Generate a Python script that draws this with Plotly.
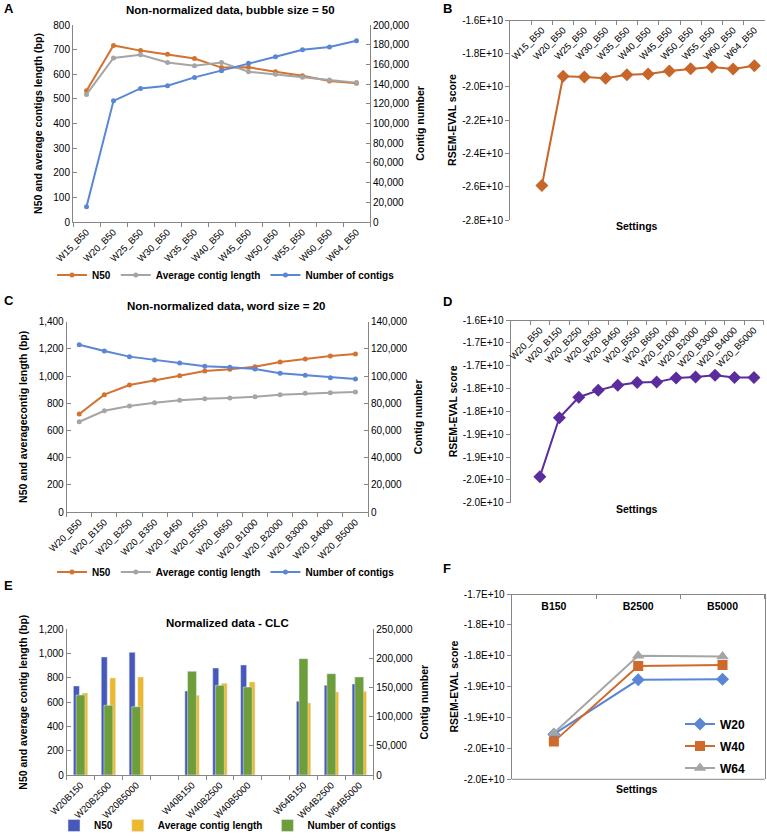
import plotly.graph_objects as go

W, H = 767, 840
FONT = "Arial, Liberation Sans, sans-serif"

ORANGE = "#D4722F"
GRAY = "#A5A5A5"
BLUE = "#5A86D5"
PURPLE = "#5B2C9E"
BAR_BLUE = "#4658BC"
BAR_YELLOW = "#EDB92C"
BAR_GREEN = "#6E9E3C"
AXIS = "#868686"

# ---- panel A: non-normalized, bubble size 50 ----
a_settings = ["W15_B50", "W20_B50", "W25_B50", "W30_B50", "W35_B50", "W40_B50",
              "W45_B50", "W50_B50", "W55_B50", "W60_B50", "W64_B50"]
a_n50 = [533, 717, 696, 681, 664, 627, 628, 610, 594, 573, 563]
a_avg_len = [518, 666, 679, 648, 635, 648, 610, 600, 588, 577, 566]
a_contigs = [15500, 123000, 135600, 138300, 146800, 153600, 161100, 167800,
             174900, 177700, 184100]

# ---- panel B: RSEM-EVAL, bubble size 50 ----
b_rsem = [-2.593e10, -1.938e10, -1.942e10, -1.950e10, -1.929e10, -1.924e10,
          -1.906e10, -1.892e10, -1.882e10, -1.894e10, -1.874e10]
b_tickvals = [-2.8e10, -2.6e10, -2.4e10, -2.2e10, -2.0e10, -1.8e10, -1.6e10]
b_ticktext = ["-2.8E+10", "-2.6E+10", "-2.4E+10", "-2.2E+10", "-2.0E+10",
              "-1.8E+10", "-1.6E+10"]

# ---- panel C: non-normalized, word size 20 ----
c_settings = ["W20_B50", "W20_B150", "W20_B250", "W20_B350", "W20_B450",
              "W20_B550", "W20_B650", "W20_B1000", "W20_B2000", "W20_B3000",
              "W20_B4000", "W20_B5000"]
c_n50 = [721, 863, 934, 971, 1003, 1037, 1050, 1069, 1103, 1126, 1148, 1162]
c_avg_len = [664, 745, 780, 804, 822, 834, 839, 848, 863, 873, 878, 883]
c_contigs = [123100, 118400, 114300, 111800, 109600, 107200, 106400, 105200,
             102000, 100600, 98800, 97800]

# ---- panel D: RSEM-EVAL, word size 20 ----
d_rsem = [-1.943e10, -1.814e10, -1.769e10, -1.754e10, -1.743e10, -1.737e10,
          -1.736e10, -1.727e10, -1.725e10, -1.721e10, -1.726e10, -1.726e10]
d_tickvals = [-2.0e10, -1.95e10, -1.9e10, -1.85e10, -1.8e10, -1.75e10,
              -1.7e10, -1.65e10, -1.6e10]
d_ticktext = ["-2.0E+10", "-2.0E+10", "-1.9E+10", "-1.9E+10", "-1.8E+10",
              "-1.8E+10", "-1.7E+10", "-1.7E+10", "-1.6E+10"]

# ---- panel E: normalized data, CLC ----
e_settings = ["W20B150", "W20B2500", "W20B5000", " ", "W40B150", "W40B2500",
              "W40B5000", "  ", "W64B150", "W64B2500", "W64B5000"]
e_n50 = [733, 972, 1010, None, 692, 881, 906, None, 607, 739, 750]
e_avg_len = [675, 799, 807, None, 656, 755, 766, None, 593, 684, 689]
e_contigs = [137300, 119600, 117200, None, 177900, 153900, 151000, None,
             199600, 173800, 168200]

# ---- panel F: RSEM-EVAL, normalized ----
f_settings = ["B150", "B2500", "B5000"]
f_w20 = [-1.927e10, -1.839e10, -1.838e10]
f_w40 = [-1.939e10, -1.8165e10, -1.815e10]
f_w64 = [-1.925e10, -1.800e10, -1.801e10]
f_tickvals = [-2.0e10, -1.95e10, -1.9e10, -1.85e10, -1.8e10, -1.75e10, -1.7e10]
f_ticktext = ["-2.0E+10", "-2.0E+10", "-1.9E+10", "-1.9E+10", "-1.8E+10",
              "-1.8E+10", "-1.7E+10"]


def px_x(x):
    return x / W


def px_y(y):
    return 1 - y / H


def xd(left, right):
    return [px_x(left), px_x(right)]


def yd(top, bottom):
    return [px_y(bottom), px_y(top)]


def cat_range(cats, lead=0):
    # one slot per category, optionally with empty slots in front
    return [-0.5 - lead, len(cats) - 0.5]


def ax(**kw):
    base = dict(showline=True, linecolor=AXIS, linewidth=1, showgrid=False,
                zeroline=False, ticks="outside", ticklen=4, tickcolor=AXIS,
                automargin=False,
                tickfont=dict(size=10, color="black"),
                title_font=dict(size=10.5, color="black", weight="bold"))
    base.update(kw)
    return base


def cat_x(**kw):
    return ax(type="category", tickson="boundaries", tickangle=-45,
              tickfont=dict(size=9.5, color="black"), **kw)


def line_trace(x, y, name, color, xa, ya, legend, symbol="circle", size=5,
               showlegend=True):
    return go.Scatter(x=x, y=y, name=name, mode="lines+markers",
                      line=dict(color=color, width=2),
                      marker=dict(color=color, size=size, symbol=symbol),
                      xaxis=xa, yaxis=ya, legend=legend, showlegend=showlegend,
                      legendgroup=f"{legend}-{name}")


fig = go.Figure()

# panel A
fig.add_trace(line_trace(a_settings, a_n50, "N50", ORANGE, "x", "y", "legend"))
fig.add_trace(line_trace(a_settings, a_avg_len, "Average contig length", GRAY,
                         "x", "y", "legend"))
fig.add_trace(line_trace(a_settings, a_contigs, "Number of contigs", BLUE,
                         "x", "y2", "legend"))

# panel B
fig.add_trace(line_trace(a_settings, b_rsem, "RSEM-EVAL", "#C8662A", "x2", "y3",
                         "legend", symbol="diamond", size=10, showlegend=False))

# panel C
fig.add_trace(line_trace(c_settings, c_n50, "N50", ORANGE, "x3", "y4", "legend2"))
fig.add_trace(line_trace(c_settings, c_avg_len, "Average contig length", GRAY,
                         "x3", "y4", "legend2"))
fig.add_trace(line_trace(c_settings, c_contigs, "Number of contigs", BLUE,
                         "x3", "y5", "legend2"))

# panel D
fig.add_trace(line_trace(c_settings, d_rsem, "RSEM-EVAL", PURPLE, "x4", "y6",
                         "legend2", symbol="diamond", size=10, showlegend=False))

# panel E (green bars sit on the secondary axis, drawn over the others)
fig.add_trace(go.Bar(x=e_settings, y=e_n50, name="N50", marker_color=BAR_BLUE,
                     width=0.215, offset=-0.26, xaxis="x5", yaxis="y7",
                     legend="legend3"))
fig.add_trace(go.Bar(x=e_settings, y=e_avg_len, name="Average contig length",
                     marker_color=BAR_YELLOW, width=0.205, offset=0.05,
                     xaxis="x5", yaxis="y7", legend="legend3"))
fig.add_trace(go.Bar(x=e_settings, y=e_contigs, name="Number of contigs",
                     marker_color=BAR_GREEN, width=0.32, offset=-0.165,
                     xaxis="x5", yaxis="y8", legend="legend3"))

# panel F
fig.add_trace(line_trace(f_settings, f_w20, "W20", BLUE, "x6", "y9", "legend4",
                         symbol="diamond", size=10))
fig.add_trace(line_trace(f_settings, f_w40, "W40", "#D06A2A", "x6", "y9",
                         "legend4", symbol="square", size=10))
fig.add_trace(line_trace(f_settings, f_w64, "W64", GRAY, "x6", "y9", "legend4",
                         symbol="triangle-up", size=11))

layout_axes = dict(
    # A
    xaxis=cat_x(domain=xd(73, 370), anchor="y", range=cat_range(a_settings)),
    yaxis=ax(domain=yd(25, 222), anchor="x", range=[0, 800], dtick=100,
             ticks="inside",
             title=dict(text="N50 and average contigs length (bp)", standoff=8)),
    yaxis2=ax(overlaying="y", side="right", anchor="x", range=[0, 200000],
              dtick=20000, tickformat=",", ticks="inside",
              title=dict(text="Contig number", standoff=8)),
    # B
    xaxis2=cat_x(domain=xd(510, 765), anchor="free", position=px_y(20),
                 side="bottom", range=cat_range(a_settings, 1)),
    yaxis3=ax(domain=yd(20, 220), anchor="x2", range=[-2.8e10, -1.6e10],
              tickvals=b_tickvals, ticktext=b_ticktext,
              title=dict(text="RSEM-EVAL score", standoff=3)),
    # C
    xaxis3=cat_x(domain=xd(66.7, 368), anchor="y4", range=cat_range(c_settings)),
    yaxis4=ax(domain=yd(321.7, 512), anchor="x3", range=[0, 1400], dtick=200,
              tickformat=",", ticks="inside",
              title=dict(text="N50 and averagecontig length (bp)", standoff=8)),
    yaxis5=ax(overlaying="y4", side="right", anchor="x3", range=[0, 140000],
              dtick=20000, tickformat=",", ticks="inside",
              title=dict(text="Contig number", standoff=8)),
    # D
    xaxis4=cat_x(domain=xd(510.7, 763.7), anchor="free", position=px_y(320),
                 side="bottom", range=cat_range(c_settings, 1)),
    yaxis6=ax(domain=yd(320, 502.7), anchor="x4", range=[-2.0e10, -1.6e10],
              tickvals=d_tickvals, ticktext=d_ticktext,
              title=dict(text="RSEM-EVAL score", standoff=3)),
    # E
    xaxis5=cat_x(domain=xd(66.7, 373.3), anchor="y7", range=cat_range(e_settings)),
    yaxis7=ax(domain=yd(629.3, 775), anchor="x5", range=[0, 1200], dtick=200,
              tickformat=",", ticks="inside",
              title=dict(text="N50 and average contig length (bp)", standoff=8)),
    yaxis8=ax(overlaying="y7", side="right", anchor="x5", range=[0, 250000],
              dtick=50000, tickformat=",", ticks="inside",
              title=dict(text="Contig number", standoff=8)),
    # F
    xaxis6=ax(type="category", tickson="boundaries", domain=xd(511.7, 764.7),
              anchor="free", position=px_y(594), side="bottom",
              range=cat_range(f_settings),
              tickfont=dict(size=10.5, color="black", weight="bold"),
              ticklabelstandoff=2),
    yaxis9=ax(domain=yd(594, 779.3), anchor="x6", range=[-2.0e10, -1.7e10],
              tickvals=f_tickvals, ticktext=f_ticktext, mirror=True,
              title=dict(text="RSEM-EVAL score", standoff=3)),
)

# bottom edge of the F plot area
fig.add_shape(type="line", xref="x6 domain", yref="y9 domain", x0=0, x1=1,
              y0=0, y1=0, line=dict(color=AXIS, width=1))


def note(text, x, y, size=10.5, anchor="center"):
    return dict(text=text, x=px_x(x), y=px_y(y), xref="paper", yref="paper",
                showarrow=False, xanchor=anchor, yanchor="middle",
                font=dict(size=size, color="black", family=FONT, weight="bold"))


annotations = [
    note("A", 2, 9, 13, "left"), note("B", 441, 9, 13, "left"),
    note("C", 2, 300, 13, "left"), note("D", 441, 301, 13, "left"),
    note("E", 2, 585, 13, "left"), note("F", 441, 568, 13, "left"),
    note("Non-normalized data, bubble size = 50", 230, 10, 11.5),
    note("Non-normalized data, word size = 20", 226, 306, 11.5),
    note("Normalized data - CLC", 228, 623, 11.5),
    note("Settings", 637, 226), note("Settings", 637, 509),
    note("Settings", 637, 789),
]

leg_font = dict(size=10, color="black", family=FONT, weight="bold")
clear = "rgba(0,0,0,0)"
fig.update_layout(
    width=W, height=H, autosize=False,
    margin=dict(l=0, r=0, t=0, b=0),
    paper_bgcolor="white", plot_bgcolor="white",
    font=dict(family=FONT, color="black"),
    barmode="overlay",
    annotations=annotations,
    legend=dict(orientation="h", x=px_x(226), y=px_y(275), xanchor="center",
                yanchor="middle", font=leg_font, itemwidth=30, bgcolor=clear),
    legend2=dict(orientation="h", x=px_x(226), y=px_y(572), xanchor="center",
                 yanchor="middle", font=leg_font, itemwidth=30, bgcolor=clear),
    legend3=dict(orientation="h", x=px_x(228), y=0, xanchor="center",
                 yanchor="bottom", font=leg_font, itemwidth=30, bgcolor=clear),
    legend4=dict(orientation="v", x=px_x(680), y=px_y(746), xanchor="left",
                 yanchor="middle", tracegroupgap=3,
                 font=dict(size=12, color="black", family=FONT, weight="bold"),
                 bgcolor=clear),
    **layout_axes,
)

# drop the browser's default page margin so the figure starts at the corner
fig.write_html("out.html", config={"displayModeBar": False},
               post_script="document.body.style.margin = '0';")
